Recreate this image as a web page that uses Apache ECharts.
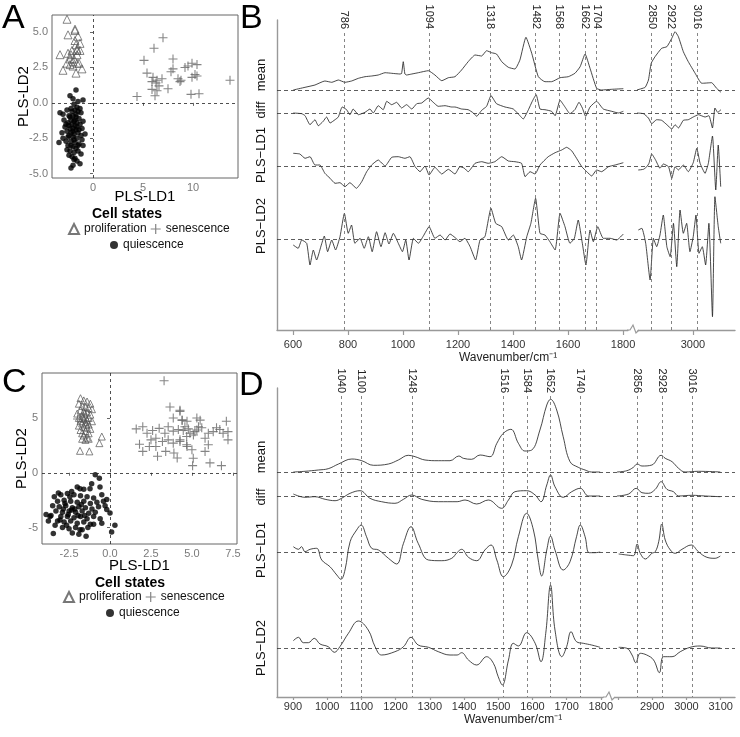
<!DOCTYPE html>
<html><head><meta charset="utf-8">
<script src="https://cdn.jsdelivr.net/npm/echarts@6/dist/echarts.min.js"></script>
<style>html,body{margin:0;padding:0;background:#fff}#c{width:740px;height:737px}</style>
</head><body><div id="c"></div>
<script>
// ---------- scatter data (PLS-LD1, PLS-LD2) ----------
const aProlif = [[-1.9,6.4],[-2.6,5.9],[-1.8,5.2],[-2.5,4.8],[-3.3,3.4],[-3.0,2.3],[-2.3,3.1],[-1.8,4.4],[-1.3,4.2],[-2.1,3.7],[-1.6,3.8],[-2.5,3.5],[-2.0,2.9],[-2.3,2.7],[-1.6,2.8],[-1.1,2.4],[-1.7,2.1],[-1.4,2.8],[-1.9,3.1],[-2.2,3.4],[-1.6,3.4],[-1.5,4.7],[-1.7,4.1],[-2.0,2.6],[-2.6,2.8],[-1.8,5.1],[-1.3,3.7],[-1.6,3.7]];
const aSenes = [[4.4,0.45],[5.1,3.0],[7.0,4.6],[6.1,3.85],[8.0,3.1],[5.4,2.1],[6.0,1.8],[6.4,1.6],[6.9,1.7],[5.9,1.5],[6.3,1.4],[6.6,1.2],[7.5,1.0],[5.9,0.95],[6.4,0.85],[6.2,0.5],[7.8,2.2],[8.0,2.4],[8.5,1.7],[9.5,2.6],[9.9,2.8],[10.4,2.7],[10.2,2.0],[10.4,1.9],[9.9,1.8],[9.8,0.6],[10.6,0.65],[13.7,1.6],[8.7,1.5],[8.8,1.6],[9.2,2.5]];
const aQuies = [[-1.7,0.9],[-2.3,0.5],[-1.0,0.2],[-1.5,0.1],[-2.0,0.3],[-1.9,-0.1],[-3.3,-0.7],[-3.0,-0.8],[-2.6,-0.5],[-2.2,-0.4],[-1.8,-0.5],[-1.5,-0.6],[-1.2,-0.7],[-2.4,-0.9],[-2.0,-0.9],[-1.7,-1.0],[-1.4,-1.1],[-2.2,-1.2],[-1.9,-1.3],[-1.6,-1.4],[-2.5,-1.4],[-2.1,-1.5],[-1.8,-1.6],[-1.3,-1.5],[-2.8,-1.7],[-2.3,-1.8],[-2.0,-1.8],[-1.7,-1.9],[-1.1,-1.8],[-2.6,-2.0],[-2.2,-2.1],[-1.9,-2.2],[-1.5,-2.1],[-2.4,-2.3],[-2.0,-2.4],[-1.6,-2.5],[-1.2,-2.3],[-3.0,-2.5],[-3.4,-2.8],[-2.7,-2.7],[-2.2,-2.7],[-1.8,-2.8],[-1.4,-2.9],[-2.5,-3.0],[-2.0,-3.1],[-1.7,-3.2],[-1.0,-3.0],[-2.3,-3.4],[-1.9,-3.5],[-1.5,-3.4],[-2.1,-3.8],[-1.8,-3.9],[-2.4,-3.7],[-1.6,-4.1],[-2.0,-4.4],[-1.3,-4.3],[-2.2,-4.6],[-1.2,-3.6],[-0.8,-2.2],[-2.9,-1.2],[-2.1,-0.6],[-1.6,-0.3],[-1.3,-0.4],[-2.5,-2.4],[-1.9,-2.6],[-2.3,-1.0],[-1.4,-1.9],[-1.1,-2.6],[-2.7,-1.5],[-1.8,-1.2],[-2.0,-2.0],[-1.6,-1.7],[-2.2,-3.0],[-1.5,-3.0],[-2.6,-3.3],[-1.0,-1.3],[-3.1,-2.1],[-1.9,-4.0],[-1.7,-0.8],[-2.4,-1.6]];
const cProlif = [[-1.8,6.8],[-1.6,6.6],[-1.4,6.5],[-1.2,6.3],[-1.9,6.3],[-1.7,6.1],[-1.5,6.0],[-1.3,5.9],[-1.1,5.8],[-1.8,5.7],[-1.6,5.6],[-1.4,5.5],[-2.0,5.4],[-1.2,5.3],[-1.7,5.2],[-1.5,5.1],[-1.9,5.0],[-1.3,5.0],[-1.6,4.9],[-1.4,4.8],[-1.8,4.7],[-1.1,4.7],[-1.5,4.6],[-1.7,4.5],[-1.3,4.4],[-1.9,4.3],[-1.6,4.2],[-1.4,4.1],[-1.2,4.0],[-1.8,3.9],[-1.5,3.8],[-1.7,3.6],[-1.3,3.6],[-1.6,3.4],[-1.4,3.2],[-1.5,3.0],[-1.7,3.1],[-1.3,3.1],[-1.83,2.0],[-1.26,1.95],[-0.65,2.7],[-0.5,3.3],[-1.55,5.4],[-1.45,4.4],[-1.65,5.0]];
const cSenes = [[-1.98,4.9],[3.3,8.4],[3.66,6.0],[4.27,5.6],[3.86,5.0],[4.4,4.8],[5.3,5.0],[1.6,4.0],[2.0,4.2],[2.26,3.6],[2.6,3.85],[3.0,4.05],[3.35,3.6],[3.55,4.2],[3.86,3.8],[4.17,3.95],[4.47,3.85],[4.78,4.0],[5.09,3.45],[2.5,3.0],[2.8,3.15],[3.2,2.85],[3.55,3.0],[3.86,2.7],[4.27,2.85],[4.68,2.55],[2.8,2.4],[2.0,1.95],[3.4,1.95],[3.9,1.8],[2.9,1.5],[4.1,1.35],[5.04,0.65],[1.8,2.6],[2.4,2.4],[4.68,3.3],[5.4,4.2],[4.27,5.7],[4.4,4.8],[4.57,4.2],[4.88,3.6],[5.18,3.75],[5.5,4.8],[5.6,4.1],[5.8,3.15],[6.0,3.6],[6.3,3.75],[6.5,4.1],[6.7,3.95],[7.1,4.7],[7.2,3.75],[7.2,3.0],[6.9,3.6],[5.08,1.33],[5.8,1.95],[6.1,0.9],[6.8,0.65],[6.0,2.55],[4.7,2.4],[5.0,2.1],[4.27,3.0],[4.7,4.7],[5.3,3.9]];
const cQuies = [[-0.9,-0.18],[-0.65,-0.5],[-0.61,-1.3],[-1.12,-1.0],[-1.22,-1.45],[-1.83,-1.45],[-2.34,-1.7],[-3.15,-1.85],[-0.2,-2.45],[-0.2,-3.36],[0.0,-3.67],[-0.5,-4.6],[0.3,-4.8],[0.1,-5.4],[-3.66,-4.0],[-3.76,-4.4],[-3.46,-5.55],[-1.46,-5.8],[-1.83,-5.2],[-1.0,-4.7],[-3.4,-2.2],[-3.0,-2.0],[-2.6,-1.9],[-2.2,-2.0],[-1.8,-2.1],[-1.4,-2.2],[-1.0,-2.3],[-3.2,-2.6],[-2.8,-2.5],[-2.4,-2.6],[-2.0,-2.7],[-1.6,-2.6],[-1.2,-2.8],[-0.8,-2.7],[-3.5,-3.0],[-3.1,-3.1],[-2.7,-3.0],[-2.3,-3.2],[-1.9,-3.1],[-1.5,-3.2],[-1.1,-3.3],[-0.7,-3.1],[-3.3,-3.5],[-2.9,-3.6],[-2.5,-3.5],[-2.1,-3.6],[-1.7,-3.5],[-1.3,-3.7],[-0.9,-3.6],[-3.6,-3.9],[-3.0,-4.0],[-2.6,-4.0],[-2.2,-4.1],[-1.8,-4.0],[-1.4,-4.2],[-1.0,-4.0],[-3.2,-4.4],[-2.8,-4.5],[-2.4,-4.4],[-2.0,-4.6],[-1.6,-4.5],[-1.2,-4.7],[-2.9,-5.0],[-2.5,-5.1],[-2.1,-5.0],[-1.7,-5.2],[-3.9,-3.8],[-2.75,-2.8],[-2.35,-3.4],[-1.95,-3.9],[-2.55,-3.8],[-2.15,-3.3],[-1.75,-2.9],[-2.45,-2.2],[-2.85,-3.3],[-3.05,-4.3],[-1.55,-3.9],[-1.35,-5.0],[-2.65,-4.8],[-3.35,-4.8],[-0.5,-2.0],[-0.4,-2.6],[-0.6,-4.2],[-0.3,-3.0],[-2.0,-1.3],[-1.6,-1.5],[-1.9,-5.6],[-2.3,-5.5]];

// ---------- spectra (wavenumber, value relative to trace baseline) ----------
const bMeanL = [[601,0],[644,2.7],[680,5],[716,9],[741,7.7],[765,10],[789,7.7],[813,9],[838,11.7],[862,13.3],[886,14],[910,15],[935,17.3],[959,16.7],[989,16],[995,16.5],[1001,28.3],[1007,16],[1013,15],[1032,16],[1056,17.3],[1092,19.3],[1116,15],[1141,9.3],[1165,12.3],[1189,13.3],[1213,20],[1237,28.3],[1262,35],[1286,34],[1304,39.3],[1322,37.3],[1340,36],[1359,28.3],[1383,22.7],[1407,21],[1425,30],[1447,52.7],[1468,36.7],[1492,13.3],[1516,8.3],[1540,8.3],[1571,12.3],[1601,13.3],[1625,16.7],[1644,23.3],[1662,36],[1680,21.7],[1704,1.7],[1722,0],[1759,0.7],[1801,1.3]];
const bMeanR = [[2795,0],[2826,2.7],[2838,10],[2848,26.7],[2862,33.3],[2886,41.7],[2905,43.3],[2923,51.7],[2935,58.3],[2947,53.3],[2965,38.3],[2983,28.3],[3008,16.7],[3032,6.7],[3068,7.3],[3086,1.7],[3102,-2.3]];
const bDiffL = [[601,0],[632,-0.7],[644,-2.7],[662,-11.7],[680,-6.7],[692,-12.7],[710,-8.3],[722,-4],[735,-10],[753,-6.7],[765,-4],[779,6],[795,3.3],[807,-1.7],[819,4],[838,-1.7],[862,0.7],[880,4],[892,0],[910,7.3],[928,3.3],[941,11.7],[959,8.3],[977,10.7],[995,5],[1013,8.3],[1032,4],[1050,9.3],[1068,10],[1092,15],[1110,10.7],[1128,6.7],[1153,7.3],[1177,6],[1189,6],[1213,4],[1237,3.3],[1256,0],[1268,-3.3],[1286,2.7],[1304,6.7],[1320,17.3],[1340,9.3],[1371,6],[1401,4],[1425,-2.7],[1437,-6],[1456,3.3],[1470,11.7],[1484,18.3],[1498,4],[1516,3.3],[1540,1.7],[1553,-2.7],[1571,12.7],[1589,6],[1607,-0.7],[1625,3.3],[1640,10.7],[1652,5],[1664,-3.3],[1680,6],[1704,11.7],[1728,4],[1759,1.7],[1783,0],[1801,1.7]];
const bDiffR = [[2795,0],[2820,-0.7],[2838,-5],[2850,-10.7],[2868,-6.7],[2886,-7.3],[2905,-11.7],[2923,-16],[2935,-11.7],[2947,-15],[2965,-7.3],[2983,-6.7],[3001,-4],[3020,-1.7],[3044,-4],[3058,-2.7],[3071,-15],[3080,5],[3090,0.7],[3102,3.3]];
const bLd1L = [[601,12.7],[625,12],[644,7.7],[662,9.3],[680,1],[698,1],[716,-7.3],[735,-12.3],[753,-17.3],[771,-16.7],[789,-20.7],[807,-16.7],[831,-22.3],[850,-15.7],[868,-5.7],[886,1],[910,6],[935,0],[959,8.7],[983,9.3],[1007,7.7],[1025,9.3],[1044,-0.7],[1062,-5.7],[1080,0],[1095,-9],[1116,-1.3],[1141,-8],[1165,-3.3],[1189,-8],[1207,-0.7],[1222,-2],[1237,-5.7],[1262,2.7],[1286,4.3],[1310,2.7],[1334,4.3],[1359,9.3],[1383,5],[1407,4.3],[1431,2.7],[1444,-10.7],[1462,-5.7],[1480,-8],[1498,1],[1528,9.3],[1553,13.3],[1577,16],[1595,18.7],[1613,15.3],[1631,7.7],[1650,-0.7],[1668,-5.7],[1686,-10],[1704,-4],[1722,-5.7],[1747,-0.7],[1771,1],[1801,3.3]];
const bLd1R = [[2801,-4],[2820,-3.3],[2832,-0.7],[2840,2.7],[2850,12],[2864,6],[2880,-2.3],[2892,2],[2911,-0.7],[2923,-12.3],[2935,-0.7],[2947,-4],[2965,1],[2983,-5.7],[3001,3.3],[3014,17.7],[3026,2.7],[3044,-7.3],[3056,2.7],[3071,30],[3083,-24],[3092,21],[3101,-20.7]];
const bLd2L = [[601,-6],[619,-9.3],[632,-1],[650,-4.3],[662,-26],[674,-11],[686,-21],[702,-7],[714,3],[726,-12.7],[741,-1],[755,-11],[771,2.3],[787,25.7],[801,5.7],[813,14],[825,-4.3],[844,0.7],[859,-9.3],[874,2.3],[888,-12.7],[904,7.3],[920,-7.7],[935,6.3],[949,-5],[965,5.7],[983,-4.3],[998,-12.7],[1010,-1],[1022,-21],[1038,0.7],[1056,-4.3],[1074,3],[1095,12.3],[1116,0.7],[1135,4],[1153,-1],[1171,5],[1189,1.5],[1207,-2.7],[1225,0.7],[1244,-7.7],[1264,-21],[1280,-1],[1298,2.3],[1320,30.7],[1337,15.7],[1359,12.3],[1383,-1],[1401,4],[1419,-7.7],[1431,-21],[1450,2.3],[1465,15.7],[1482,40.7],[1498,5.7],[1516,4],[1534,-2.7],[1553,-11],[1571,25.7],[1589,12.3],[1607,-4.3],[1623,0.7],[1637,19],[1652,-4.3],[1665,-26],[1680,9],[1692,-2.7],[1708,12.3],[1728,0.7],[1753,0.7],[1777,-1],[1801,5]];
const bLd2R = [[2801,9],[2814,10.7],[2828,-4.3],[2844,-41],[2856,0.7],[2868,-7.7],[2880,4],[2892,24],[2905,-7.7],[2917,-17.7],[2929,15.7],[2941,-27.7],[2953,29],[2965,5.7],[2977,15.7],[2989,-12.7],[3001,2.3],[3011,24],[3022,-14.3],[3034,-7.7],[3046,-26],[3058,15.7],[3071,-77.7],[3080,42.3],[3092,12.3],[3101,-4.3]];

const dMeanL = [[901,0],[935,0.7],[974,2],[1003,3.3],[1033,8],[1072,13],[1101,11.3],[1135,6.7],[1179,8],[1208,12],[1237,16.7],[1257,15.3],[1286,12],[1325,11.3],[1359,11.3],[1385,16],[1398,13.7],[1422,12.7],[1447,17],[1476,15.3],[1496,28.7],[1515,38.7],[1537,42.7],[1559,28.7],[1578,21],[1598,22],[1622,42],[1642,67],[1653,72.7],[1671,62],[1690,35.3],[1710,10.3],[1734,4.7],[1754,2],[1773,0],[1798,0]];
const dMeanR = [[2797,0],[2826,1.3],[2845,4.7],[2856,8],[2870,6],[2899,7],[2926,16.7],[2938,13.7],[2958,10.3],[2977,3.7],[2996,0],[3035,0.7],[3099,0]];
const dDiffL = [[901,2],[935,-1.3],[964,-0.7],[994,-3.3],[1023,-4.7],[1042,-2.3],[1067,2.7],[1096,5.3],[1125,-2.3],[1159,-5.7],[1198,-7.3],[1223,-3.3],[1247,1],[1276,-3.3],[1325,-5.7],[1380,-5.7],[1403,-4],[1437,-8],[1471,-4],[1510,-12.3],[1530,-4],[1549,4.3],[1583,5.3],[1608,1],[1625,-5.7],[1642,11],[1653,21],[1666,9.3],[1690,-1.3],[1715,4.3],[1740,7.7],[1764,0],[1798,0]];
const dDiffR = [[2797,0],[2831,2],[2853,7.7],[2870,3.3],[2889,2.7],[2909,6.7],[2926,14.3],[2943,6.7],[2962,4.3],[2977,0],[3016,0.7],[3055,0],[3099,-0.7]];
const dLd1L = [[901,5.3],[916,2.7],[925,5.3],[935,0.3],[950,2.7],[969,3.7],[984,-8],[1008,-14.7],[1028,-23],[1040,-27.3],[1052,-18],[1067,10.3],[1086,22],[1099,27],[1115,15.3],[1130,3.7],[1150,2],[1179,-6.3],[1203,-12],[1223,8.7],[1245,25.3],[1266,8.7],[1296,-8],[1335,-8.7],[1364,-6.3],[1380,-0.5],[1393,2.7],[1413,-5.3],[1437,-8.7],[1461,2],[1479,7],[1496,-8],[1515,-24.7],[1539,-13],[1559,15.3],[1583,38.7],[1603,22],[1617,-8],[1627,-24],[1642,2],[1653,16],[1666,2],[1690,-18],[1710,-9.7],[1729,15.3],[1740,27],[1754,15.3],[1766,-0.7],[1783,-0.7],[1798,0]];
const dLd1R = [[2802,-2],[2826,-3],[2845,-3.7],[2856,8],[2865,-1.3],[2880,-7],[2899,-1.3],[2909,0.3],[2919,10.3],[2928,28],[2938,12],[2953,2],[2967,-1.3],[2987,2.7],[3014,7],[3035,0.3],[3060,-5.3],[3084,-6.3],[3099,-4]];
const dLd2L = [[901,7.3],[916,10.7],[930,5.3],[945,5.3],[962,9.7],[979,4],[1003,1.3],[1021,-4.3],[1037,1.3],[1062,14.7],[1091,27],[1120,18],[1140,1.3],[1159,-7],[1198,-3.7],[1223,1.3],[1245,10.7],[1266,3],[1296,0.7],[1325,-3.7],[1359,-7],[1380,-7],[1393,-4.7],[1413,-12],[1437,-17],[1466,-8.7],[1486,-15.3],[1500,-28.7],[1512,-37],[1530,-12],[1544,4.7],[1559,2],[1583,15.3],[1608,4.7],[1625,-13.7],[1639,14.7],[1653,63],[1666,18],[1686,-8.7],[1700,1.3],[1713,16.3],[1729,6.3],[1749,4.7],[1773,3],[1798,0.7]];
const dLd2R = [[2802,0.7],[2826,-0.3],[2841,-7],[2852,-14.7],[2865,-5.3],[2884,-7],[2904,-12],[2921,-24.7],[2933,-8.7],[2958,-8.7],[2982,-3.7],[3011,0.7],[3040,2],[3074,0],[3099,0]];

// ---------- peaks, ticks, labels ----------
const bPeaksL = [786,1094,1318,1482,1568,1662,1704];
const bPeaksR = [2850,2922,3016];
const dPeaksL = [1040,1100,1248,1516,1584,1652,1740];
const dPeaksR = [2856,2928,3016];
const bTicksL = [600,800,1000,1200,1400,1600,1800];
const bTicksR = [3000];
const dTicksL = [900,1000,1100,1200,1300,1400,1500,1600,1700,1800];
const dTicksR = [2800,2900,3000,3100];
const dLabelsR = [2900,3000,3100];
const rowNames = ['mean','diff','PLS\u2212LD1','PLS\u2212LD2'];
const aTicksX = [0,5,10], aTicksY = [-5,-2.5,0,2.5,5];
const cTicksX = [-2.5,0,2.5,5,7.5], cTicksY = [-5,0,5];
const stateNames = ['proliferation','senescence','quiescence'];

// ---------- layout constants ----------
const FONT = 'Liberation Sans, Arial, Helvetica, sans-serif';
const bBase = [240,217,164,91];      // baselines for mean, diff, LD1, LD2 (panel B y-units)
const bRowLab = [255,220,175,104];
const dBase = [225,201,145,49];
const dRowLab = [240,200,147,49];
const shift = (arr, b) => arr.map(p => [p[0], p[1] + b]);
const plain = v => String(v);

const chart = echarts.init(document.getElementById('c'), null, {renderer:'canvas'});

const triSym = 'triangle';
const plusSym = 'path://M4.4,0H5.6V4.4H10V5.6H5.6V10H4.4V5.6H0V4.4H4.4Z';

function scatterSeries(xi, prolif, senes, quies, sizes) {
  return [
    {name:stateNames[0], type:'scatter', xAxisIndex:xi, yAxisIndex:xi, data:prolif, symbol:triSym, symbolSize:sizes[0],
     itemStyle:{color:'rgba(255,255,255,0)', borderColor:'#555', borderWidth:0.9}, silent:true,
     markLine:{silent:true, symbol:'none', label:{show:false}, lineStyle:{type:[3,3], color:'#222', width:0.8}, data:[{xAxis:0},{yAxis:0}]}},
    {name:stateNames[1], type:'scatter', xAxisIndex:xi, yAxisIndex:xi, data:senes, symbol:plusSym, symbolSize:sizes[1],
     itemStyle:{color:'#666'}, silent:true},
    {name:stateNames[2], type:'scatter', xAxisIndex:xi, yAxisIndex:xi, data:quies, symbol:'circle', symbolSize:sizes[2],
     itemStyle:{color:'#000'}, silent:true}
  ];
}

function lineS(data, xi, yi, smooth, extra) {
  return Object.assign({type:'line', xAxisIndex:xi, yAxisIndex:yi, data:data, symbol:'none', showSymbol:false,
    smooth:smooth, silent:true, lineStyle:{color:'#1a1a1a', width:0.8}}, extra || {});
}
function vLines(peaks, top) {
  return {silent:true, symbol:'none', label:{show:false}, lineStyle:{type:[3,3], color:'#666', width:0.8},
    data: peaks.map(p => [{coord:[p, top]}, {coord:[p, 0]}])};
}
function hLines(vals) {
  return {silent:true, symbol:'none', label:{show:false}, lineStyle:{type:[4,3], color:'#333', width:0.8},
    data: vals.map(v => ({yAxis:v}))};
}

const scatAxisX = (min, max, ticks, name, gap, dec) => ({
  type:'value', min:min, max:max, axisLine:{show:false}, splitLine:{show:false},
  axisTick:{show:true, customValues:ticks, length:3, lineStyle:{color:'#666'}},
  axisLabel:{customValues:ticks, color:'#7a7a7a', fontSize:11, fontFamily:FONT, margin:4, formatter:v => dec ? v.toFixed(1) : String(v)},
  name:name, nameLocation:'middle', nameGap:gap, nameMoveOverlap:false,
  nameTextStyle:{fontSize:15, color:'#000', fontFamily:FONT}
});

const spectraBottomX = (min, max, ticks, labels, margin, tlen) => ({
  type:'value', min:min, max:max, position:'bottom', splitLine:{show:false},
  axisLine:{show:true, lineStyle:{color:'#999', width:1.4}},
  axisTick:{show:true, customValues:ticks, length:tlen, lineStyle:{color:'#999', width:1.2}},
  axisLabel:{customValues:labels, color:'#333', fontSize:11, fontFamily:FONT, margin:margin, formatter:plain}
});
const spectraTopX = (gi, min, max, peaks, offset) => ({
  gridIndex:gi, type:'value', min:min, max:max, position:'top', offset:offset, splitLine:{show:false},
  axisLine:{show:false}, axisTick:{show:false},
  axisLabel:{customValues:peaks, rotate:90, color:'#222', fontSize:11, fontFamily:FONT, margin:2, formatter:plain}
});
const hiddenX = gi => ({gridIndex:gi, type:'value', min:0, max:1, show:false});
const hiddenY = (gi, max) => ({gridIndex:gi, type:'value', min:0, max:max, show:false});
const rowAxisY = (gi, max, labVals) => ({
  gridIndex:gi, type:'value', min:0, max:max, splitLine:{show:false},
  axisLine:{show:true, lineStyle:{color:'#999', width:1.4}}, axisTick:{show:false},
  axisLabel:{customValues:labVals, rotate:90, color:'#111', fontSize:13, fontFamily:FONT, margin:9,
    formatter:v => rowNames[labVals.indexOf(v)]}
});
const legendRow = (names, left, top, icon) => ({
  data:names, left:left, top:top, itemWidth:icon, itemHeight:icon, itemGap:4, padding:0,
  textStyle:{fontSize:12, color:'#111', fontFamily:FONT}, selectedMode:false
});

const option = {
  animation:false,
  backgroundColor:'#fff',
  grid:[
    {left:52, top:15, width:186, height:163, show:true, borderColor:'#666', borderWidth:1, backgroundColor:'transparent'},
    {left:42, top:373, width:195, height:171, show:true, borderColor:'#666', borderWidth:1, backgroundColor:'transparent'},
    {left:277, top:20, width:351, height:310},
    {left:638, top:20, width:97, height:310},
    {left:277, top:20, width:458, height:310},
    {left:277, top:388, width:326, height:309},
    {left:615, top:388, width:120, height:309},
    {left:277, top:388, width:458, height:309}
  ],
  xAxis:[
    Object.assign({gridIndex:0}, scatAxisX(-4.1, 14.5, aTicksX, 'PLS-LD1', 11, false)),
    Object.assign({gridIndex:1}, scatAxisX(-4.15, 7.75, cTicksX, 'PLS-LD1', 14, true)),
    Object.assign({gridIndex:2}, spectraBottomX(542, 1818, bTicksL, bTicksL, 9, 5)),
    spectraTopX(2, 542, 1818, bPeaksL, -11),
    Object.assign({gridIndex:3}, spectraBottomX(2800, 3153, bTicksR, bTicksR, 9, 5)),
    spectraTopX(3, 2800, 3153, bPeaksR, -11),
    hiddenX(4),
    Object.assign({gridIndex:5}, spectraBottomX(853.2, 1806.4, dTicksL, dTicksL, 4, 3)),
    spectraTopX(5, 853.2, 1806.4, dPeaksL, -7),
    Object.assign({gridIndex:6}, spectraBottomX(2791.2, 3142, dTicksR, dLabelsR, 4, 3)),
    spectraTopX(6, 2791.2, 3142, dPeaksR, -7),
    hiddenX(7)
  ],
  yAxis:[
    {gridIndex:0, type:'value', min:-5.3, max:6.2, axisLine:{show:false}, splitLine:{show:false},
     axisTick:{show:true, customValues:aTicksY, length:3, lineStyle:{color:'#666'}},
     axisLabel:{customValues:aTicksY, color:'#7a7a7a', fontSize:11, fontFamily:FONT, margin:4, formatter:v => v.toFixed(1)},
     name:'PLS-LD2', nameLocation:'middle', nameGap:21, nameMoveOverlap:false,
     nameTextStyle:{fontSize:15, color:'#000', fontFamily:FONT}},
    {gridIndex:1, type:'value', min:-6.5, max:9.1, axisLine:{show:false}, splitLine:{show:false},
     axisTick:{show:true, customValues:cTicksY, length:3, lineStyle:{color:'#666'}},
     axisLabel:{customValues:cTicksY, color:'#7a7a7a', fontSize:11, fontFamily:FONT, margin:4},
     name:'PLS-LD2', nameLocation:'middle', nameGap:13, nameMoveOverlap:false,
     nameTextStyle:{fontSize:15, color:'#000', fontFamily:FONT}},
    rowAxisY(2, 310, bRowLab),
    hiddenY(3, 310),
    hiddenY(4, 310),
    rowAxisY(5, 309, dRowLab),
    hiddenY(6, 309),
    hiddenY(7, 309)
  ],
  legend:[
    legendRow([stateNames[0], stateNames[1]], 68, 223, 10),
    legendRow([stateNames[2]], 110, 239, 8),
    legendRow([stateNames[0], stateNames[1]], 63, 591, 10),
    legendRow([stateNames[2]], 106, 607, 8)
  ],
  series:[].concat(
    scatterSeries(0, aProlif, aSenes, aQuies, [8, 9, 5.5]),
    scatterSeries(1, cProlif, cSenes, cQuies, [7, 9, 5.5]),
    [
      lineS(shift(bMeanL, bBase[0]), 2, 2, 0.15, {markLine:vLines(bPeaksL, 297)}),
      lineS(shift(bDiffL, bBase[1]), 2, 2, 0.15),
      lineS(shift(bLd1L, bBase[2]), 2, 2, 0.15),
      lineS(shift(bLd2L, bBase[3]), 2, 2, 0.15),
      lineS(shift(bMeanR, bBase[0]), 4, 3, 0.15, {markLine:vLines(bPeaksR, 297)}),
      lineS(shift(bDiffR, bBase[1]), 4, 3, 0.15),
      lineS(shift(bLd1R, bBase[2]), 4, 3, 0.15),
      lineS(shift(bLd2R, bBase[3]), 4, 3, 0.15),
      lineS([], 6, 4, false, {markLine:hLines(bBase)}),
      lineS(shift(dMeanL, dBase[0]), 7, 5, 0.4, {markLine:vLines(dPeaksL, 301)}),
      lineS(shift(dDiffL, dBase[1]), 7, 5, 0.4),
      lineS(shift(dLd1L, dBase[2]), 7, 5, 0.4),
      lineS(shift(dLd2L, dBase[3]), 7, 5, 0.4),
      lineS(shift(dMeanR, dBase[0]), 9, 6, 0.4, {markLine:vLines(dPeaksR, 301)}),
      lineS(shift(dDiffR, dBase[1]), 9, 6, 0.4),
      lineS(shift(dLd1R, dBase[2]), 9, 6, 0.4),
      lineS(shift(dLd2R, dBase[3]), 9, 6, 0.4),
      lineS([], 11, 7, false, {markLine:hLines(dBase)})
    ]
  ),
  graphic:[
    {type:'text', x:2, y:2, style:{text:'A', fontSize:34, fontFamily:FONT, fill:'#000'}},
    {type:'text', x:240, y:2, style:{text:'B', fontSize:34, fontFamily:FONT, fill:'#000'}},
    {type:'text', x:2, y:366, style:{text:'C', fontSize:34, fontFamily:FONT, fill:'#000'}},
    {type:'text', x:239, y:369, style:{text:'D', fontSize:34, fontFamily:FONT, fill:'#000'}},
    {type:'text', x:127, y:214, style:{text:'Cell states', fontSize:14, fontWeight:'bold', fontFamily:FONT, fill:'#000', align:'center', verticalAlign:'middle'}},
    {type:'text', x:130, y:583, style:{text:'Cell states', fontSize:14, fontWeight:'bold', fontFamily:FONT, fill:'#000', align:'center', verticalAlign:'middle'}},
    {type:'text', x:508, y:358, style:{text:'Wavenumber/cm\u207B\u00B9', fontSize:12, fontFamily:FONT, fill:'#222', align:'center', verticalAlign:'middle'}},
    {type:'text', x:513, y:720, style:{text:'Wavenumber/cm\u207B\u00B9', fontSize:12, fontFamily:FONT, fill:'#222', align:'center', verticalAlign:'middle'}},
    {type:'polyline', shape:{points:[[627,330],[630,330],[633,325],[636,333],[639,330]]}, style:{stroke:'#999', fill:null, lineWidth:1.2}},
    {type:'polyline', shape:{points:[[603,697],[606,697],[609,692],[612,700],[615,697]]}, style:{stroke:'#999', fill:null, lineWidth:1.2}}
  ]
};
chart.setOption(option);
</script></body></html>
